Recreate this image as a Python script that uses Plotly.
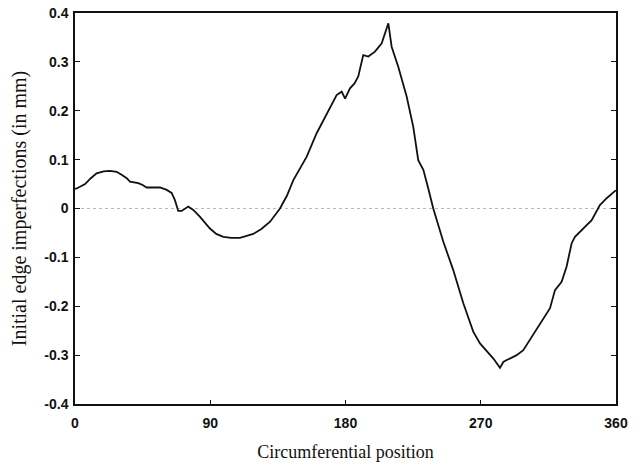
import plotly.graph_objects as go

# Circumferential position (degrees) and measured edge imperfection (mm)
position = [0, 1.1, 6.7, 10.5, 14.4, 19.0, 23.3, 27.7, 31.0, 34.4, 36.6, 42.1, 45.0,
            47.7, 52.0, 56.6, 61.0, 64.3, 66.5, 68.7, 71.0, 75.4, 78.7, 83.2, 89.8,
            94.0, 98.7, 104.0, 109.8, 118.6, 124.0, 129.8, 136.4, 141.0, 145.3,
            150.0, 154.2, 160.8, 167.5, 174.1, 177.5, 179.7, 183.0, 186.0, 188.5,
            191.8, 195.2, 199.6, 204.1, 208.5, 210.7, 215.1, 220.7, 225.1, 228.4,
            231.8, 235.0, 238.4, 245.1, 251.7, 258.4, 265.0, 269.5, 273.9, 278.4,
            282.8, 285.0, 287.3, 293.9, 298.3, 304.9, 311.6, 316.1, 319.4, 323.8,
            327.1, 330.5, 332.7, 337.2, 340.5, 343.8, 349.3, 353.8, 359.4, 360]
imperfection = [0.040, 0.041, 0.050, 0.062, 0.072, 0.076, 0.077, 0.075, 0.069, 0.062,
                0.055, 0.052, 0.048, 0.043, 0.043, 0.043, 0.038, 0.032, 0.017,
                -0.005, -0.005, 0.004, -0.003, -0.017, -0.041, -0.052, -0.058,
                -0.060, -0.060, -0.052, -0.042, -0.027, 0.000, 0.026, 0.058, 0.082,
                0.106, 0.154, 0.195, 0.232, 0.239, 0.225, 0.246, 0.256, 0.270,
                0.314, 0.311, 0.321, 0.338, 0.379, 0.331, 0.290, 0.229, 0.167,
                0.099, 0.079, 0.042, 0.000, -0.068, -0.126, -0.194, -0.252, -0.276,
                -0.292, -0.307, -0.326, -0.314, -0.310, -0.300, -0.290, -0.258,
                -0.228, -0.204, -0.167, -0.150, -0.119, -0.071, -0.058, -0.044,
                -0.034, -0.024, 0.007, 0.021, 0.036, 0.037]

x_ticks = [0, 90, 180, 270, 360]
y_ticks = [0.4, 0.3, 0.2, 0.1, 0, -0.1, -0.2, -0.3, -0.4]
y_tick_text = ["0.4", "0.3", "0.2", "0.1", "0", "-0.1", "-0.2", "-0.3", "-0.4"]

fig = go.Figure()
fig.add_trace(go.Scatter(
    x=position, y=imperfection, mode="lines",
    line=dict(color="#111111", width=1.8),
    showlegend=False, hoverinfo="skip",
))

# dotted reference line at zero
fig.add_shape(type="line", xref="x", yref="y", x0=0, x1=360, y0=0, y1=0,
              line=dict(color="#b8b8b8", width=1, dash="dot"), layer="below")

tick_font = dict(family="Arial, Liberation Sans, sans-serif", size=14, color="#111111")
x_title_font = dict(family="Times New Roman, Liberation Serif, serif", size=18, color="#111111")
y_title_font = dict(family="Times New Roman, Liberation Serif, serif", size=20, color="#111111")

fig.update_xaxes(
    range=[0, 360], tickvals=x_ticks, ticktext=[f"<b>{v}</b>" for v in x_ticks],
    ticks="inside", ticklen=4, tickwidth=1, tickcolor="#111111",
    showline=True, linecolor="#111111", linewidth=1.5, mirror=True,
    showgrid=False, zeroline=False, tickfont=tick_font,
    title=dict(text="Circumferential position", font=x_title_font, standoff=16),
    automargin=False, ticklabelstandoff=5,
)
fig.update_yaxes(
    range=[-0.4, 0.4], tickvals=y_ticks, ticktext=[f"<b>{t}</b>" for t in y_tick_text],
    ticks="inside", ticklen=5, tickwidth=1, tickcolor="#111111",
    showline=True, linecolor="#111111", linewidth=1.5, mirror="ticks",
    showgrid=False, zeroline=False, tickfont=tick_font,
    title=dict(text="Initial edge imperfections (in mm)", font=y_title_font, standoff=12),
    automargin=False, ticklabelstandoff=2,
)

fig.update_layout(
    width=643, height=465,
    margin=dict(l=75, r=27, t=13, b=61),
    paper_bgcolor="white", plot_bgcolor="white",
)

fig.write_html("out.html")
